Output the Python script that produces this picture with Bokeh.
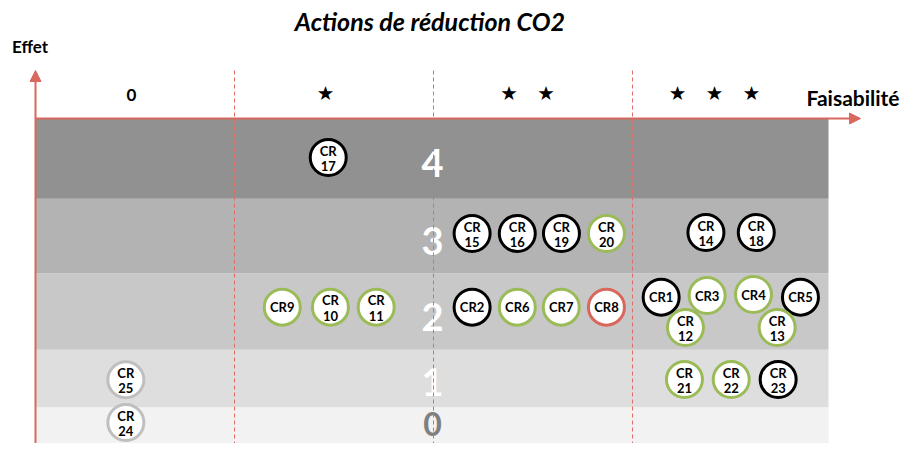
from bokeh.plotting import figure
from bokeh.models import ColumnDataSource, Arrow, NormalHead, Range1d
from bokeh.core.properties import value
from bokeh.embed import file_html
from bokeh.resources import INLINE

# ---------------- data ----------------
title_text = "Actions de réduction CO2"
y_axis_label = "Effet"
x_axis_label = "Faisabilité"

# feasibility columns (x scale: one unit per column)
feas_labels = ["0", "★", "★\u2003★", "★\u2003★\u2003★"]
feas_label_x = [0.482, 1.457, 2.472, 3.412]
feas_bounds = [1, 2, 3]

# effect bands (y scale)
effect_levels = ["0", "1", "2", "3", "4"]
band_bottom = [0.0, 0.523, 1.097, 1.863, 2.607]
band_top = [0.523, 1.097, 1.863, 2.607, 3.41]
band_colors = ["#f2f2f2", "#dedede", "#c8c8c8", "#b3b3b3", "#919191"]
level_label_y = [0.36, 0.78, 1.43, 2.19, 2.97]
level_label_colors = ["#7f7f7f", "white", "white", "white", "white"]
level_label_sizes = ["32px", "38px", "38px", "38px", "38px"]

# actions
actions = ["CR1", "CR2", "CR3", "CR4", "CR5", "CR6", "CR7", "CR8", "CR9", "CR10",
           "CR11", "CR12", "CR13", "CR14", "CR15", "CR16", "CR17", "CR18", "CR19",
           "CR20", "CR21", "CR22", "CR23", "CR24", "CR25"]
action_x = [3.144, 2.194, 3.375, 3.608, 3.844, 2.421, 2.642, 2.869, 1.240, 1.482,
            1.712, 3.266, 3.727, 3.369, 2.194, 2.421, 1.471, 3.622, 2.643,
            2.869, 3.261, 3.496, 3.732, 0.454, 0.454]
action_y = [1.623, 1.523, 1.640, 1.650, 1.623, 1.523, 1.523, 1.523, 1.523, 1.523,
            1.523, 1.320, 1.320, 2.270, 2.260, 2.260, 3.020, 2.270, 2.260,
            2.260, 0.800, 0.800, 0.800, 0.370, 0.797]
action_status = ["noir", "noir", "vert", "vert", "noir", "vert", "vert", "rouge", "vert", "vert",
                 "vert", "vert", "vert", "noir", "noir", "noir", "noir", "noir", "noir",
                 "vert", "vert", "vert", "noir", "gris", "gris"]
status_colors = {"noir": "#000000", "vert": "#9bbb59", "rouge": "#d9675c", "gris": "#bfbfbf"}

# ---------------- figure ----------------
W, H = 901, 443
p = figure(width=W, height=H, output_backend="svg", toolbar_location=None,
           x_range=Range1d(-35 / 199, -35 / 199 + W / 199),
           y_range=Range1d(0.16, 4.59),
           min_border=0, min_border_left=0, min_border_right=0,
           min_border_top=0, min_border_bottom=0)
p.axis.visible = False
p.xgrid.visible = False
p.ygrid.visible = False
p.outline_line_color = None
p.background_fill_color = "white"
p.border_fill_color = "white"

red_axis = "#d9695f"
red_dash = "#e06d65"

# bands
p.quad(left=0, right=3.985, bottom=band_bottom, top=band_top,
       fill_color=band_colors, line_color=None)

# band numbers
lvl_src = ColumnDataSource(dict(x=[1.995] * len(effect_levels), y=level_label_y,
                                text=effect_levels, color=level_label_colors,
                                size=level_label_sizes))
p.text(x="x", y="y", text="text", source=lvl_src,
       text_color="color", text_font=value("Lato"), text_font_style="bold",
       text_font_size="size", text_align="center", text_baseline="middle")

# dashed column separators
p.segment(x0=feas_bounds, y0=[0.0] * 3, x1=feas_bounds, y1=[3.91] * 3,
          line_color=red_dash, line_width=1, line_dash="4 3")

# axes arrows
p.add_layout(Arrow(end=NormalHead(size=11, fill_color=red_axis, line_color=red_axis),
                   x_start=0, y_start=0.0, x_end=0, y_end=3.89,
                   line_color=red_axis, line_width=2))
p.add_layout(Arrow(end=NormalHead(size=11, fill_color=red_axis, line_color=red_axis),
                   x_start=0, y_start=3.41, x_end=4.146, y_end=3.41,
                   line_color=red_axis, line_width=2))

# action circles
src = ColumnDataSource(dict(x=action_x, y=action_y,
                            color=[status_colors[s] for s in action_status]))
p.scatter(x="x", y="y", source=src, marker="circle", size=36,
          fill_color="white", line_color="color", line_width=3)

# circle labels
one_x, one_y, one_t = [], [], []
two_x, two_y1, two_y2, two_t1, two_t2 = [], [], [], [], []
for name, x, y in zip(actions, action_x, action_y):
    num = name[2:]
    if len(num) == 1:
        one_x.append(x); one_y.append(y); one_t.append(name)
    else:
        two_x.append(x); two_y1.append(y + 0.07); two_y2.append(y - 0.085)
        two_t1.append("CR"); two_t2.append(num)

lbl = dict(text_color="black", text_font=value("Lato"), text_font_style="bold",
           text_font_size="13px", text_align="center", text_baseline="middle")
p.text(x=one_x, y=one_y, text=one_t, **lbl)
p.text(x=two_x, y=two_y1, text=two_t1, **lbl)
p.text(x=two_x, y=two_y2, text=two_t2, **lbl)

# column headers
p.text(x=feas_label_x[:1], y=[3.65], text=feas_labels[:1], text_color="black",
       text_font=value("Lato"), text_font_style="bold", text_font_size="17px",
       text_align="center", text_baseline="middle")
p.text(x=feas_label_x[1:], y=[3.66] * 3, text=feas_labels[1:], text_color="black",
       text_font=value("DejaVu Sans"), text_font_size="19.5px",
       text_align="center", text_baseline="middle")

# axis names and title
p.text(x=[4.342], y=[3.62], text=[x_axis_label], text_color="black",
       text_font=value("Lato"), text_font_style="bold", text_font_size="21px",
       text_align="right", text_baseline="middle")
p.text(x=[-0.0276], y=[4.13], text=[y_axis_label], text_color="black",
       text_font=value("Lato"), text_font_style="bold", text_font_size="17px",
       text_align="center", text_baseline="middle")
p.text(x=[1.982], y=[4.39], text=[title_text], text_color="black",
       text_font=value("Lato"), text_font_style="bold italic", text_font_size="25px",
       text_align="center", text_baseline="middle")

open("out.html", "w").write(file_html(p, INLINE))
